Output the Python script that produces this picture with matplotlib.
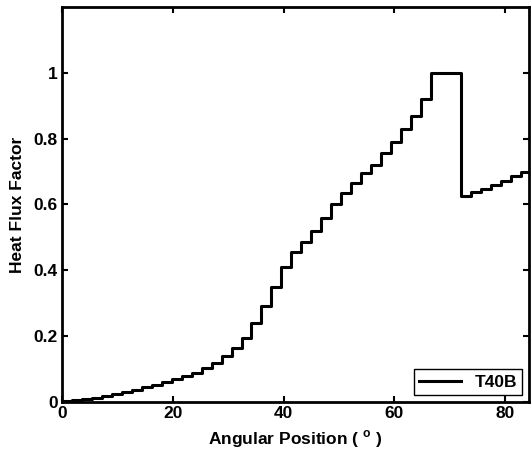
import numpy as np
import matplotlib
matplotlib.use('Agg')
import matplotlib.pyplot as plt

plt.rcParams['font.family'] = ['Liberation Sans', 'DejaVu Sans']
plt.rcParams['font.weight'] = 'bold'
plt.rcParams['axes.labelweight'] = 'bold'

# element boundaries (deg) and heat flux factor of each element
angle_edges = [0.0, 1.8, 3.6, 5.4, 7.2, 9.0, 10.8, 12.6, 14.4, 16.2,
               18.0, 19.8, 21.6, 23.4, 25.2, 27.0, 28.8, 30.6, 32.4, 34.2,
               36.0, 37.8, 39.6, 41.4, 43.2, 45.0, 46.8, 48.6, 50.4, 52.2,
               54.0, 55.8, 57.6, 59.4, 61.2, 63.0, 64.8, 66.6, 68.4, 70.2,
               72.0, 73.8, 75.6, 77.4, 79.2, 81.0, 82.8, 84.6]
flux_factor = [0.002, 0.005, 0.009, 0.013, 0.018, 0.023, 0.029, 0.036, 0.044, 0.052,
               0.060, 0.069, 0.078, 0.089, 0.102, 0.118, 0.140, 0.165, 0.195, 0.240,
               0.290, 0.350, 0.410, 0.455, 0.487, 0.518, 0.560, 0.600, 0.635, 0.665,
               0.695, 0.720, 0.755, 0.790, 0.830, 0.870, 0.920, 1.000, 1.000, 1.000,
               0.625, 0.637, 0.648, 0.660, 0.672, 0.685, 0.700]

x_ticks = [0, 20, 40, 60, 80]
y_ticks = [0, 0.2, 0.4, 0.6, 0.8, 1]
y_tick_labels = ['0', '0.2', '0.4', '0.6', '0.8', '1']

fig = plt.figure(figsize=(5.32, 4.62), dpi=100)
ax = fig.add_axes([0.1165, 0.13, 0.878, 0.855])

ax.step(angle_edges, flux_factor + [flux_factor[-1]], where='post',
        color='black', lw=2.2, label='T40B')

ax.set_xlim(0, 84.3)
ax.set_ylim(0, 1.2)
ax.set_xticks(x_ticks)
ax.set_yticks(y_ticks)
ax.set_yticklabels(y_tick_labels)
ax.tick_params(direction='in', top=True, right=True, length=4, width=1.5,
               labelsize=12.5, pad=3)
for s in ax.spines.values():
    s.set_linewidth(2.0)

ax.set_xlabel('Angular Position ( $^{\\mathregular{o}}$ )', fontsize=12.5, labelpad=5)
ax.set_ylabel('Heat Flux Factor', fontsize=12.5, labelpad=6)

leg = ax.legend(loc='lower right', fontsize=12.5, fancybox=False, framealpha=1,
                edgecolor='black', handlelength=2.4, borderpad=0.3,
                borderaxespad=0.4)
leg.get_frame().set_linewidth(1.0)

fig.savefig('out.png', dpi=100)
